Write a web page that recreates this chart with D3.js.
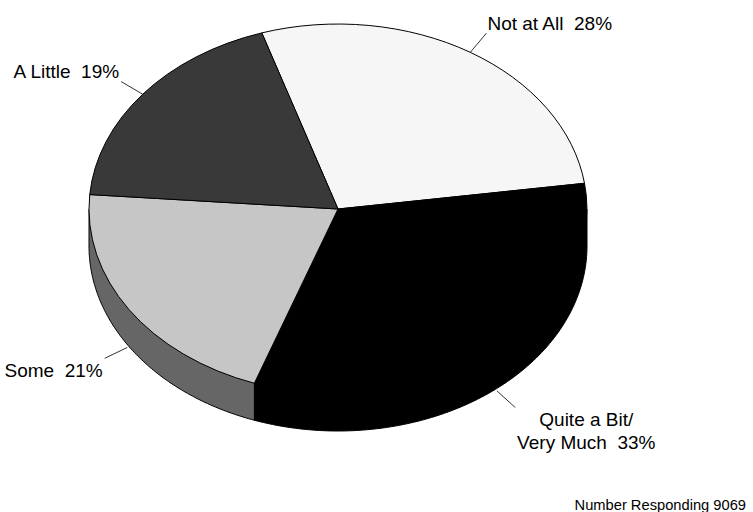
<!DOCTYPE html>
<html>
<head>
<meta charset="utf-8">
<script src="https://cdn.jsdelivr.net/npm/d3@7"></script>
<style>
  html, body { margin: 0; padding: 0; background: #fff; }
  text { font-family: "Liberation Sans", Arial, sans-serif; fill: #000; }
</style>
</head>
<body>
<svg id="chart" width="753" height="512"></svg>
<script>
// ---- data ----
const categories = ["Not at All", "Quite a Bit/\nVery Much", "Some", "A Little"];
const percents   = [28, 33, 21, 19];
const footnote   = "Number Responding 9069";

// ---- styles / layout (not data) ----
const topColors  = ["#f6f6f6", "#000000", "#c6c6c6", "#393939"];
const sideColors = ["#b0b0b0", "#000000", "#666666", "#1e1e1e"];
const cx = 338, cy = 209, rx = 249, ry = 185, depth = 37;
const startDeg = -17.8;
const leaderLen = 25;
// label placement relative to leader outer end: [dx, dy, anchor]
const labelPlace = [
  [1, -3, "start"],
  [71, 18, "middle"],
  [-2, 19, "end"],
  [-2, -4, "end"]
];

const svg = d3.select("#chart");

const pie = d3.pie().sort(null).value(d => d)
  .startAngle(startDeg * Math.PI / 180)
  .endAngle(startDeg * Math.PI / 180 + 2 * Math.PI);
const arcs = pie(percents);

const ex = a => cx + rx * Math.sin(a);
const ey = a => cy - ry * Math.cos(a);

// ---- side walls (front half only) ----
const lo = Math.PI / 2, hi = 3 * Math.PI / 2;
const sideG = svg.append("g");
const norm = a => { let t = a % (2 * Math.PI); if (t < 0) t += 2 * Math.PI; return t; };
arcs.forEach((d, i) => {
  const s = norm(d.startAngle), e = s + (d.endAngle - d.startAngle);
  const v0 = Math.max(s, lo), v1 = Math.min(e, hi);
  if (v1 <= v0) return;
  const n = 100;
  const angles = d3.range(n + 1).map(k => v0 + (v1 - v0) * k / n);
  const bottom = angles.map(a => [ex(a), ey(a) + depth]);
  // fill: bottom arc, up to top edge, through centre (hidden by top face)
  const fillPts = bottom.concat([[ex(v1), ey(v1)], [cx, cy], [ex(v0), ey(v0)]]);
  sideG.append("path")
    .attr("d", d3.line()(fillPts) + "Z")
    .attr("fill", sideColors[i])
    .attr("stroke", "none");
  // outline: vertical edges + bottom arc
  const strokePts = [[ex(v0), ey(v0)]].concat(bottom, [[ex(v1), ey(v1)]]);
  sideG.append("path")
    .attr("d", d3.line()(strokePts))
    .attr("fill", "none")
    .attr("stroke", "#000")
    .attr("stroke-width", 1)
    .attr("stroke-linejoin", "round");
});

// ---- top face ----
const arcGen = d3.arc().innerRadius(0).outerRadius(1);
svg.append("g")
  .attr("transform", `translate(${cx},${cy}) scale(${rx},${ry})`)
  .selectAll("path")
  .data(arcs)
  .join("path")
  .attr("d", arcGen)
  .attr("fill", (d, i) => topColors[i])
  .attr("stroke", "#000")
  .attr("stroke-width", 1)
  .attr("vector-effect", "non-scaling-stroke")
  .attr("stroke-linejoin", "round");

// ---- leaders & labels ----
const labG = svg.append("g");
arcs.forEach((d, i) => {
  const m = (d.startAngle + d.endAngle) / 2;
  let x0 = ex(m), y0 = ey(m);
  const dx = x0 - cx, dy = y0 - cy, L = Math.hypot(dx, dy);
  const ux = dx / L, uy = dy / L;
  if (Math.cos(m) < 0) { y0 += depth; x0 += ux * 2; y0 += uy * 2; }
  const x1 = x0 + ux * leaderLen, y1 = y0 + uy * leaderLen;
  labG.append("line")
    .attr("x1", x0).attr("y1", y0).attr("x2", x1).attr("y2", y1)
    .attr("stroke", "#000").attr("stroke-width", 0.8);
  const [ox, oy, anchor] = labelPlace[i];
  const lines = (categories[i] + "  " + percents[i] + "%").split("\n");
  const t = labG.append("text")
    .attr("x", x1 + ox).attr("y", y1 + oy)
    .attr("text-anchor", anchor)
    .style("font-size", "19px")
    .style("white-space", "pre")
    .attr("xml:space", "preserve");
  lines.forEach((ln, k) => {
    t.append("tspan")
      .attr("x", x1 + ox)
      .attr("dy", k === 0 ? 0 : 23)
      .text(ln);
  });
});

svg.append("text")
  .attr("x", 746).attr("y", 510)
  .attr("text-anchor", "end")
  .style("font-size", "14.7px")
  .text(footnote);
</script>
</body>
</html>
